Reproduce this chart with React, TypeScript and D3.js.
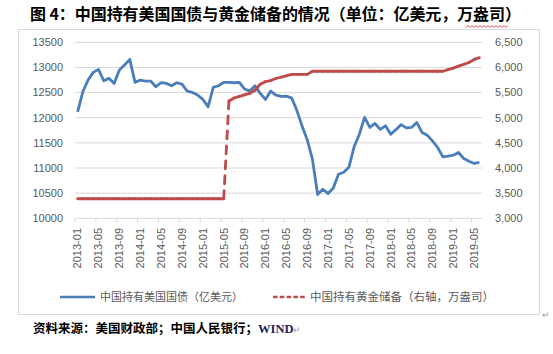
import * as d3 from 'd3';

// 月度类目 2013-01 ~ 2019-06
const categories: string[] = d3
  .timeMonth.range(new Date(2013, 0, 1), new Date(2019, 6, 1))
  .map(d3.timeFormat('%Y-%m'));

const tickLabels = [
  '2013-01', '2013-05', '2013-09', '2014-01', '2014-05', '2014-09', '2015-01',
  '2015-05', '2015-09', '2016-01', '2016-05', '2016-09', '2017-01', '2017-05',
  '2017-09', '2018-01', '2018-05', '2018-09', '2019-01', '2019-05',
];

// 中国持有美国国债（亿美元）
const treasury = [
  12118, 12516, 12749, 12902, 12962, 12735, 12783, 12683, 12948, 13048, 13161, 12703,
  12749, 12729, 12729, 12616, 12696, 12683, 12636, 12696, 12669, 12530, 12504, 12450,
  12364, 12217, 12603, 12636, 12703, 12703, 12696, 12703, 12570, 12530, 12636, 12484,
  12364, 12530, 12450, 12424, 12430, 12396, 12151, 11839, 11564, 11175, 10472, 10578,
  10492, 10604, 10877, 10916, 11016, 11424, 11673, 12006, 11807, 11886, 11767, 11839,
  11670, 11763, 11863, 11799, 11807, 11906, 11707, 11653, 11540, 11408, 11221, 11235,
  11255, 11309, 11189, 11136, 11090, 11110,
];

// 中国持有黄金储备（万盎司）
const gold = [
  3389, 3389, 3389, 3389, 3389, 3389, 3389, 3389, 3389, 3389, 3389, 3389,
  3389, 3389, 3389, 3389, 3389, 3389, 3389, 3389, 3389, 3389, 3389, 3389,
  3389, 3389, 3389, 3389, 3389, 5332, 5393, 5426, 5455, 5484, 5546, 5666,
  5718, 5739, 5780, 5806, 5831, 5862, 5862, 5862, 5862, 5924, 5924, 5924,
  5924, 5924, 5924, 5924, 5924, 5924, 5924, 5924, 5924, 5924, 5924, 5924,
  5924, 5924, 5924, 5924, 5924, 5924, 5924, 5924, 5924, 5924, 5924, 5956,
  5986, 6026, 6062, 6098, 6161, 6194,
];

const leftTicks = [10000, 10500, 11000, 11500, 12000, 12500, 13000, 13500];
const rightTicks = [3000, 3500, 4000, 4500, 5000, 5500, 6000, 6500];

const W = 553;
const H = 354;
const L = 75;
const R = 482;
const T = 42.3;
const B = 218.3;

const BLUE = '#4A7EBB';
const RED = '#BE4B48';
const GRID = '#D9D9D9';
const TXT = '#595959';
const FONT = '"Liberation Sans", Arial, sans-serif';
const CJK = '"Noto Sans CJK SC", sans-serif';

export default function App() {
  const x = d3.scaleBand<string>().domain(categories).range([L, R]);
  const cx = (c: string) => (x(c) ?? 0) + x.bandwidth() / 2;
  const yL = d3.scaleLinear().domain([10000, 13500]).range([B, T]);
  const yR = d3.scaleLinear().domain([3000, 6500]).range([B, T]);

  const line = d3.line<number>()
    .x((_, i) => cx(categories[i]))
    .y(d => yL(d));

  const goldSegs = gold.slice(1).map((v, i) => ({
    x1: cx(categories[i]), y1: yR(gold[i]),
    x2: cx(categories[i + 1]), y2: yR(v),
  }));

  // 拼写检查波浪线
  const wave = d3.range(0, 44, 2).map((d, i) => `${i ? 'L' : 'M'}${466 + d},${i % 2 ? 25.5 : 27.5}`).join('');

  return (
    <svg width={W} height={H} style={{ position: 'absolute', left: 0, top: 0, background: '#fff' }}>
      <text x={30} y={20} fontFamily={CJK} fontWeight={700} fontSize={16} fill="#000"
        textLength={491} lengthAdjust="spacing">
        图 4：中国持有美国国债与黄金储备的情况（单位：亿美元，万盎司）
      </text>
      <path d={wave} fill="none" stroke="#E02020" strokeWidth={0.8} />

      <rect x={18.5} y={29.5} width={521} height={285} fill="none" stroke={GRID} />

      {leftTicks.map(t => (
        <line key={t} x1={L} x2={R} y1={yL(t)} y2={yL(t)} stroke={GRID} />
      ))}
      {leftTicks.map(t => (
        <text key={t} x={63} y={yL(t)} dy="0.35em" textAnchor="end" fontFamily={FONT} fontSize={11} fill={TXT}>
          {t}
        </text>
      ))}
      {rightTicks.map(t => (
        <text key={t} x={495} y={yR(t)} dy="0.35em" fontFamily={FONT} fontSize={11} fill={TXT}>
          {d3.format(',')(t)}
        </text>
      ))}

      {tickLabels.map(c => (
        <g key={c}>
          <line x1={x(c)} x2={x(c)} y1={B} y2={B + 4.5} stroke={GRID} />
          <text transform={`translate(${cx(c)},228) rotate(-90)`} dy="0.35em" textAnchor="end"
            fontFamily={FONT} fontSize={11} fill={TXT}>
            {c}
          </text>
        </g>
      ))}

      <path d={line(treasury) ?? ''} fill="none" stroke={BLUE} strokeWidth={2.8} strokeLinejoin="round" />
      {goldSegs.map((s, i) => (
        <line key={i} {...s} stroke={RED} strokeWidth={2.8} strokeDasharray="8,7" strokeLinecap="round" />
      ))}

      <line x1={60} x2={95} y1={297} y2={297} stroke={BLUE} strokeWidth={2.5} />
      <text x={100} y={297} dy="0.35em" fontFamily={CJK} fontSize={11} fill={TXT}>中国持有美国国债（亿美元）</text>
      <line x1={273} x2={306} y1={297} y2={297} stroke={RED} strokeWidth={2.5} strokeDasharray="4.5,2.3" />
      <text x={310} y={297} dy="0.35em" fontFamily={CJK} fontSize={11.5} fill={TXT}>中国持有黄金储备（右轴，万盎司）</text>
      <text x={542} y={318} fontFamily={FONT} fontSize={9} fill="#999">↵</text>

      <text x={33} y={333} fontFamily={CJK} fontWeight={700} fontSize={12.5} fill="#000">
        资料来源：美国财政部；中国人民银行；
        <tspan fontFamily='"Liberation Serif", serif' fill="#1F1F5A">WIND</tspan>
        <tspan fontFamily={FONT} fontWeight={400} fontSize={9} fill="#999">↵</tspan>
      </text>
    </svg>
  );
}
